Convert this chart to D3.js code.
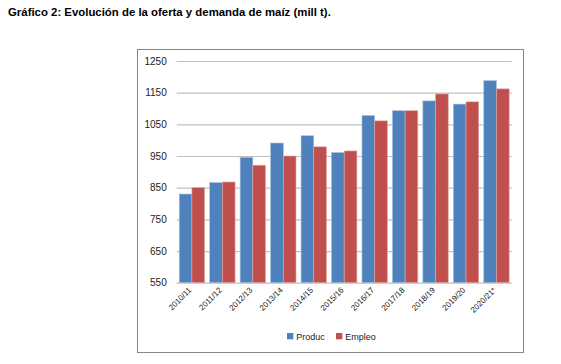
<!DOCTYPE html>
<html><head><meta charset="utf-8">
<script src="https://cdn.jsdelivr.net/npm/d3@7"></script>
<style>body{margin:0;background:#fff;} svg{display:block;}</style>
</head><body>
<svg id="c" width="561" height="364"></svg>
<script>
const categories = ["2010/11","2011/12","2012/13","2013/14","2014/15","2015/16","2016/17","2017/18","2018/19","2019/20","2020/21*"];
const produc = [830, 866, 946, 991, 1014, 961, 1078, 1093, 1124, 1114, 1188];
const empleo = [850, 868, 921, 950, 979, 966, 1061, 1093, 1146, 1121, 1162];
const seriesNames = ["Produc", "Empleo"];
const yTicks = [550, 650, 750, 850, 950, 1050, 1150, 1250];
const colors = ["#4F81BD", "#C0504D"];

const svg = d3.select("#c");
svg.append("text").attr("x", 8).attr("y", 16)
  .attr("font-family", "Liberation Sans, Arial, sans-serif").attr("font-weight", "bold").attr("font-size", 11.4)
  .attr("fill", "#000").text("Gráfico 2: Evolución de la oferta y demanda de maíz (mill t).");

// frame
svg.append("rect").attr("x", 137.5).attr("y", 49.5).attr("width", 386).attr("height", 303)
  .attr("fill", "none").attr("stroke", "#878787").attr("stroke-width", 1);

const x0 = d3.scaleBand().domain(categories).range([176.7, 511.7]).paddingInner(0).paddingOuter(0);
const x1 = d3.scaleBand().domain(seriesNames).range([0, x0.bandwidth()]).paddingInner(0).paddingOuter(0.2);
const y = d3.scaleLinear().domain([550, 1250]).range([282.7, 61]);

const yAxis = d3.axisLeft(y).tickValues(yTicks).tickSize(-(511.7 - 176.7)).tickPadding(10).tickFormat(d3.format("d"));
const gy = svg.append("g").attr("transform", "translate(176.7,0)").call(yAxis);
gy.select(".domain").remove();
gy.selectAll(".tick line").attr("stroke", "#bfbfbf").attr("stroke-width", 1.2);
gy.selectAll(".tick text").attr("font-family", "Liberation Sans, Arial, sans-serif").attr("font-size", 10).attr("fill", "#222");

const data = categories.map((c, i) => ({cat: c, vals: [produc[i], empleo[i]]}));
const groups = svg.append("g").selectAll("g").data(data).join("g")
  .attr("transform", d => `translate(${x0(d.cat)},0)`);
groups.selectAll("rect").data(d => d.vals.map((v, j) => ({v, j})))
  .join("rect")
  .attr("x", d => x1(seriesNames[d.j]))
  .attr("width", x1.bandwidth())
  .attr("y", d => y(d.v))
  .attr("height", d => y(550) - y(d.v))
  .attr("fill", d => colors[d.j])
  .attr("stroke", d => d.j === 0 ? "#a7c0de" : "#dea8a6").attr("stroke-width", 0.6);

const xAxis = d3.axisBottom(x0).tickSize(0).tickPadding(0);
const gx = svg.append("g").attr("transform", "translate(0,282.7)").call(xAxis);
gx.select(".domain").remove();
gx.selectAll(".tick text")
  .attr("font-family", "Liberation Sans, Arial, sans-serif").attr("font-size", 8).attr("fill", "#222")
  .attr("text-anchor", "end").attr("dy", null).attr("y", 0)
  .attr("transform", "translate(0,8) rotate(-45)");

// legend
const lg = svg.append("g").attr("transform", "translate(287,333)");
seriesNames.forEach((n, i) => {
  const g = lg.append("g").attr("transform", `translate(${i * 49},0)`);
  g.append("rect").attr("width", 6.3).attr("height", 6.3).attr("fill", colors[i]);
  g.append("text").attr("x", 9.3).attr("y", 6.8).attr("font-family", "Liberation Sans, Arial, sans-serif")
    .attr("font-size", 9).attr("fill", "#222").text(n);
});
</script>
</body></html>
